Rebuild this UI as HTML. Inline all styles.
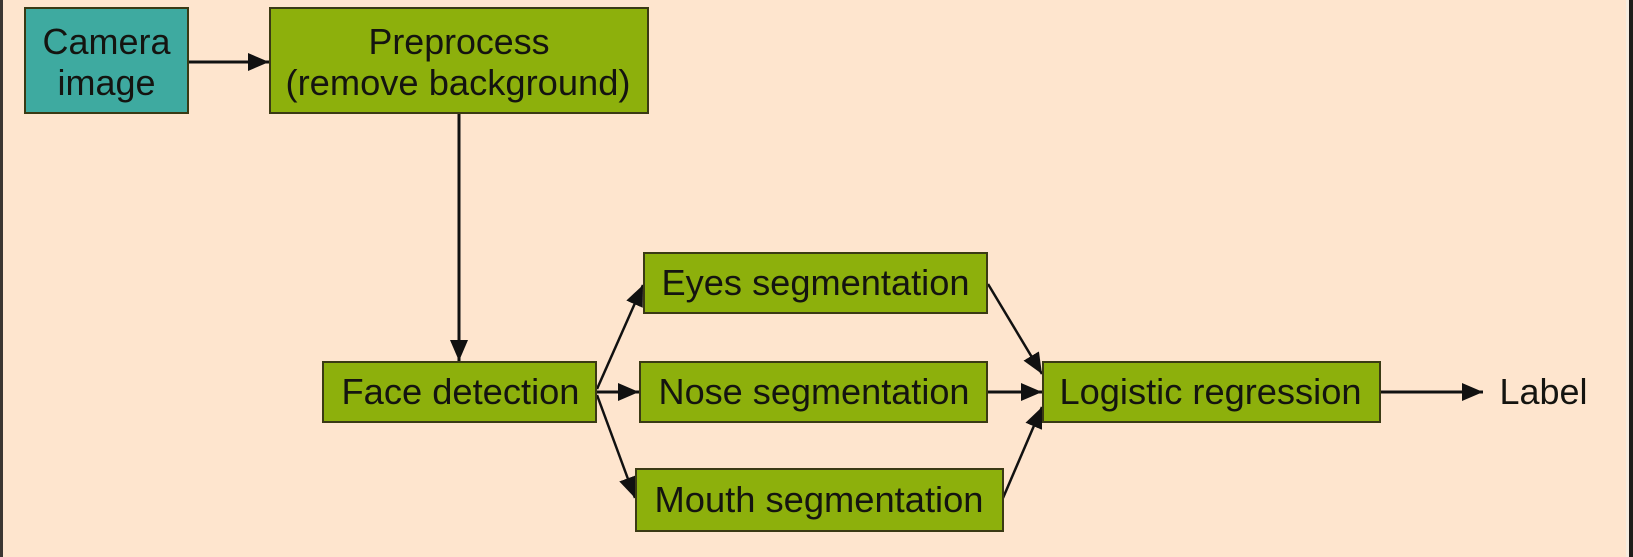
<!DOCTYPE html>
<html>
<head>
<meta charset="utf-8">
<style>
  html, body { margin: 0; padding: 0; background: #FEE5CE; }
  svg { display: block; }
  text { font-family: "Liberation Sans", Arial, sans-serif; font-size: 36px; fill: #141410; }
</style>
</head>
<body>
<svg width="1633" height="557" viewBox="0 0 1633 557" xmlns="http://www.w3.org/2000/svg">
  <defs>
    <marker id="ah" markerUnits="userSpaceOnUse" markerWidth="22" markerHeight="18" refX="21" refY="9" orient="auto">
      <path d="M0,0 L21,9 L0,18 z" fill="#111"/>
    </marker>
  </defs>

  <!-- background and frame -->
  <rect x="0" y="0" width="1633" height="557" fill="#FEE5CE"/>
  <rect x="0" y="0" width="3" height="557" fill="#3b3632"/>
  <rect x="1626" y="0" width="3" height="557" fill="#f6ece0"/>
  <rect x="1629" y="0" width="4" height="557" fill="#1e1c1a"/>

  <!-- connectors -->
  <g stroke="#111" stroke-width="3" fill="none">
    <line x1="188" y1="62" x2="269" y2="62" marker-end="url(#ah)"/>
    <line x1="459" y1="113" x2="459" y2="361" marker-end="url(#ah)"/>
    <line x1="597" y1="389" x2="643" y2="285" stroke-width="2.5" marker-end="url(#ah)"/>
    <line x1="597" y1="392" x2="639" y2="392" marker-end="url(#ah)"/>
    <line x1="597" y1="395" x2="635" y2="498" stroke-width="2.5" marker-end="url(#ah)"/>
    <line x1="988" y1="284" x2="1042" y2="374" stroke-width="2.5" marker-end="url(#ah)"/>
    <line x1="988" y1="392" x2="1042" y2="392" marker-end="url(#ah)"/>
    <line x1="1003" y1="498" x2="1042" y2="407" stroke-width="2.5" marker-end="url(#ah)"/>
    <line x1="1380" y1="392" x2="1483" y2="392" marker-end="url(#ah)"/>
  </g>

  <!-- boxes -->
  <g stroke="#3a3a14" stroke-width="2">
    <rect x="25" y="8" width="163" height="105" fill="#3EAAA0"/>
    <rect x="270" y="8" width="378" height="105" fill="#8DB00C"/>
    <rect x="323" y="362" width="273" height="60" fill="#8DB00C"/>
    <rect x="644" y="253" width="343" height="60" fill="#8DB00C"/>
    <rect x="640" y="362" width="347" height="60" fill="#8DB00C"/>
    <rect x="636" y="469" width="367" height="62" fill="#8DB00C"/>
    <rect x="1043" y="362" width="337" height="60" fill="#8DB00C"/>
  </g>

  <!-- labels -->
  <text x="106.5" y="54" text-anchor="middle" textLength="128" lengthAdjust="spacingAndGlyphs">Camera</text>
  <text x="106.5" y="95" text-anchor="middle" textLength="98" lengthAdjust="spacingAndGlyphs">image</text>
  <text x="459" y="54" text-anchor="middle" textLength="181" lengthAdjust="spacingAndGlyphs">Preprocess</text>
  <text x="458" y="95" text-anchor="middle" textLength="345" lengthAdjust="spacingAndGlyphs">(remove background)</text>
  <text x="460.5" y="404" text-anchor="middle" textLength="238" lengthAdjust="spacingAndGlyphs">Face detection</text>
  <text x="815.5" y="295" text-anchor="middle" textLength="308" lengthAdjust="spacingAndGlyphs">Eyes segmentation</text>
  <text x="814" y="404" text-anchor="middle" textLength="311" lengthAdjust="spacingAndGlyphs">Nose segmentation</text>
  <text x="819" y="512" text-anchor="middle" textLength="329" lengthAdjust="spacingAndGlyphs">Mouth segmentation</text>
  <text x="1210.5" y="404" text-anchor="middle" textLength="302" lengthAdjust="spacingAndGlyphs">Logistic regression</text>
  <text x="1543.5" y="404" text-anchor="middle" textLength="88" lengthAdjust="spacingAndGlyphs">Label</text>
</svg>
</body>
</html>
